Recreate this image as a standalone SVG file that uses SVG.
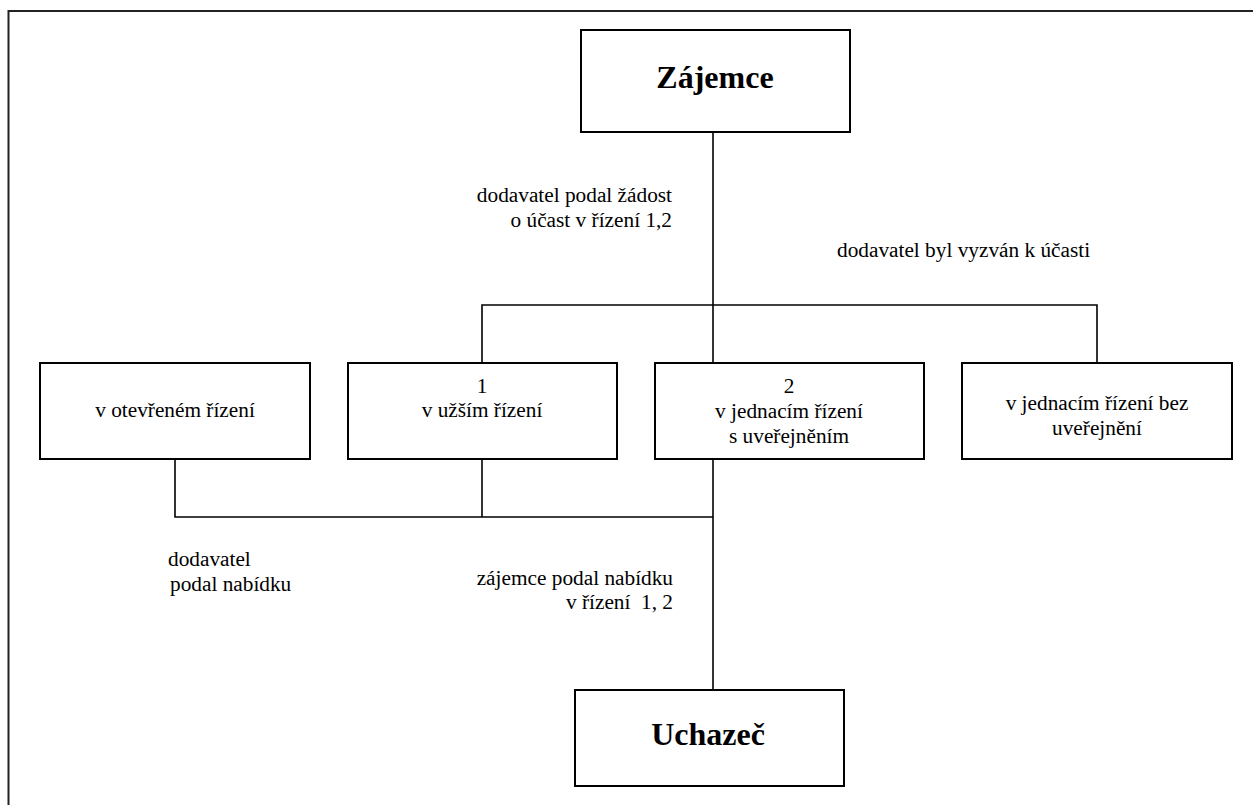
<svg xmlns="http://www.w3.org/2000/svg" width="1253" height="805" viewBox="0 0 1253 805">
<style>
.box{fill:#fff;stroke:#000;stroke-width:2}
.ln{fill:none;stroke:#000;stroke-width:1.6}
text{font-family:"Liberation Serif","Times New Roman",serif;font-size:21.3px;fill:#000}
.big{font-size:32px;font-weight:bold}
.c{text-anchor:middle}
.r{text-anchor:end}
</style>
<rect width="1253" height="805" fill="#fff"/>
<g id="frame">
<path d="M8.5 805 V11 H1253" fill="none" stroke="#222" stroke-width="2"/>
</g>
<g id="connectors">
<path class="ln" d="M713 132 V363"/>
<path class="ln" d="M482 363 V305 H1097 V363"/>
<path class="ln" d="M175 459 V517 H713"/>
<path class="ln" d="M482 459 V517"/>
<path class="ln" d="M713 459 V690"/>
</g>
<g id="zajemce">
<rect class="box" x="581" y="30" width="269" height="102"/>
<text class="big c" x="715" y="88">Zájemce</text>
</g>
<g id="otevrene">
<rect class="box" x="40" y="363" width="270" height="96"/>
<text class="c" x="175" y="417">v otevřeném řízení</text>
</g>
<g id="uzsi">
<rect class="box" x="348" y="363" width="269" height="96"/>
<text class="c" x="482" y="393">1</text>
<text class="c" x="482" y="417">v užším řízení</text>
</g>
<g id="jednaci-s">
<rect class="box" x="655" y="363" width="269" height="96"/>
<text class="c" x="789" y="393">2</text>
<text class="c" x="789" y="418">v jednacím řízení</text>
<text class="c" x="789" y="443">s uveřejněním</text>
</g>
<g id="jednaci-bez">
<rect class="box" x="962" y="363" width="270" height="96"/>
<text class="c" x="1097" y="410">v jednacím řízení bez</text>
<text class="c" x="1097" y="435">uveřejnění</text>
</g>
<g id="uchazec">
<rect class="box" x="575" y="690" width="269" height="96"/>
<text class="big c" x="708" y="745">Uchazeč</text>
</g>
<g id="labels">
<text class="r" x="672" y="202">dodavatel podal žádost</text>
<text class="r" x="672" y="227">o účast v řízení 1,2</text>
<text x="837" y="257">dodavatel byl vyzván k účasti</text>
<text x="168" y="566">dodavatel</text>
<text x="170" y="591">podal nabídku</text>
<text class="r" x="673" y="585">zájemce podal nabídku</text>
<text class="r" x="673" y="609" xml:space="preserve">v řízení  1, 2</text>
</g>
</svg>
